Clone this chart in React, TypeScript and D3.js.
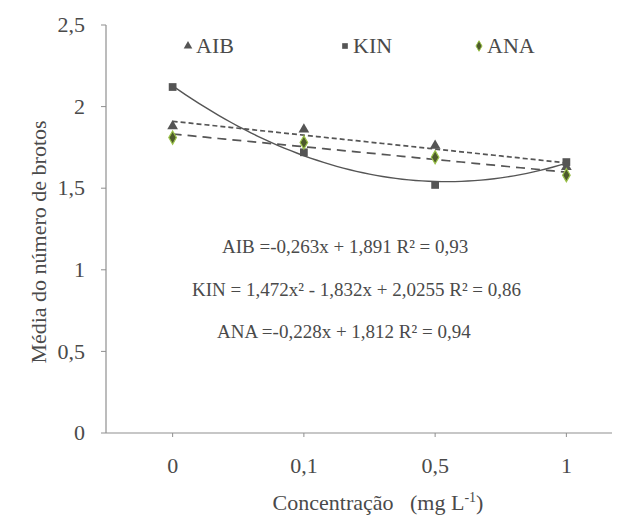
import React from "react";
import * as d3 from "d3";

const categories = ["0", "0,1", "0,5", "1"];
const aib = [1.88, 1.86, 1.76, 1.63];
const kin = [2.12, 1.72, 1.52, 1.66];
const ana = [1.81, 1.78, 1.69, 1.58];
const yTicks = [0, 0.5, 1, 1.5, 2, 2.5];
const equations = [
  "AIB =-0,263x + 1,891 R² = 0,93",
  "KIN = 1,472x² - 1,832x + 2,0255 R² = 0,86",
  "ANA =-0,228x + 1,812 R² = 0,94",
];

// least squares polynomial fit on category index
function polyFit(ys: number[], degree: number) {
  const n = degree + 1;
  const A: number[][] = [];
  for (let i = 0; i < n; i++) {
    A.push([]);
    for (let j = 0; j < n; j++) A[i].push(d3.sum(ys, (_, t) => Math.pow(t, i + j)));
    A[i].push(d3.sum(ys, (y, t) => y * Math.pow(t, i)));
  }
  for (let c = 0; c < n; c++) {
    for (let r = c + 1; r < n; r++) {
      const f = A[r][c] / A[c][c];
      for (let k = c; k <= n; k++) A[r][k] -= f * A[c][k];
    }
  }
  const coef = new Array(n).fill(0);
  for (let r = n - 1; r >= 0; r--) {
    let s = A[r][n];
    for (let k = r + 1; k < n; k++) s -= A[r][k] * coef[k];
    coef[r] = s / A[r][r];
  }
  return (t: number) => coef.reduce((acc, c, i) => acc + c * Math.pow(t, i), 0);
}

const font = "Liberation Serif";
const ink = "#4a4a4a";
const axisCol = "#8f8f8f";

const x = d3.scalePoint<string>().domain(categories).range([107, 632]).padding(0.5);
const y = d3.scaleLinear().domain([0, 2.5]).range([433, 25]);
const xi = d3.scaleLinear().domain([0, 3]).range([x(categories[0])!, x(categories[3])!]);

const tri = d3.symbol().type(d3.symbolTriangle);
const sq = d3.symbol().type(d3.symbolSquare);
const dia = d3.symbol().type(d3.symbolDiamond);

const idx = d3.range(0, 3.0001, 0.05);
const trends = [
  { f: polyFit(aib, 1), dash: "5,3", w: 1.7 },
  { f: polyFit(ana, 1), dash: "9,6", w: 1.7 },
  { f: polyFit(kin, 2), dash: undefined, w: 1.4 },
];

const series = [
  { data: kin, d: sq.size(60)(), fill: "#555", stroke: "none" },
  { data: aib, d: tri.size(50)(), fill: "#555", stroke: "none" },
  { data: ana, d: dia.size(50)(), fill: "#4d5a2c", stroke: "#9bc24a" },
];

const legend = [
  { name: "AIB", d: tri.size(32)(), lx: 188, fill: "#555", stroke: "none" },
  { name: "KIN", d: sq.size(32)(), lx: 345, fill: "#555", stroke: "none" },
  { name: "ANA", d: dia.size(32)(), lx: 479, fill: "#4d5a2c", stroke: "#9bc24a" },
];

const App = () => (
  <svg
    width={619}
    height={517}
    fontFamily={font}
    style={{ position: "absolute", left: 0, top: 0, background: "#fff" }}
  >
    {/* y axis */}
    <g transform="translate(106,0)">
      <line y1={y(0)} y2={y(2.5)} stroke={axisCol} strokeWidth={1.2} />
      {yTicks.map((t) => (
        <g key={t} transform={`translate(0,${y(t)})`}>
          <line x1={-5} x2={0} stroke={axisCol} />
          <text x={-21} dy="0.33em" textAnchor="end" fontFamily={font} fontSize={22} fill={ink}>
            {String(t).replace(".", ",")}
          </text>
        </g>
      ))}
    </g>

    {/* x axis */}
    <g transform={`translate(0,${y(0)})`}>
      <line x1={106} x2={612} stroke={axisCol} strokeWidth={1.2} />
      {categories.map((c) => (
        <g key={c} transform={`translate(${x(c)},0)`}>
          <line y1={0} y2={4} stroke={axisCol} />
          <text y={40} textAnchor="middle" fontFamily={font} fontSize={22} fill={ink}>
            {c}
          </text>
        </g>
      ))}
    </g>

    <text transform="translate(46,242) rotate(-90)" textAnchor="middle" fontFamily={font} fontSize={22} fill={ink}>
      Média do número de brotos
    </text>
    <text x={378} y={510} textAnchor="middle" fontFamily={font} fontSize={22} fill={ink} style={{ whiteSpace: "pre" }}>
      <tspan>{"Concentração   (mg L"}</tspan>
      <tspan dy={-8} fontSize={14}>-1</tspan>
      <tspan dy={8}>)</tspan>
    </text>

    {/* trend lines */}
    {trends.map((tr, i) => (
      <path
        key={i}
        d={
          d3
            .line<number>()
            .x((t) => xi(t))
            .y((t) => y(tr.f(t)))(idx) || ""
        }
        fill="none"
        stroke="#555"
        strokeWidth={tr.w}
        strokeDasharray={tr.dash}
      />
    ))}

    {/* markers */}
    {series.map((s, si) => (
      <g key={si}>
        {s.data.map((v, i) => (
          <path
            key={i}
            transform={`translate(${x(categories[i])},${y(v)})`}
            d={s.d || ""}
            fill={s.fill}
            stroke={s.stroke}
            strokeWidth={1.2}
          />
        ))}
      </g>
    ))}

    {/* legend */}
    {legend.map((l) => (
      <g key={l.name} transform={`translate(${l.lx},46)`}>
        <path d={l.d || ""} fill={l.fill} stroke={l.stroke} />
        <text x={8} dy="0.33em" fontFamily={font} fontSize={22} fill={ink}>
          {l.name}
        </text>
      </g>
    ))}

    {/* equations */}
    {equations.map((e, i) => (
      <text key={i} x={[222, 192, 217][i]} y={253 + i * 42.5} fontFamily={font} fontSize={19} fill={ink}>
        {e}
      </text>
    ))}
  </svg>
);

export default App;
